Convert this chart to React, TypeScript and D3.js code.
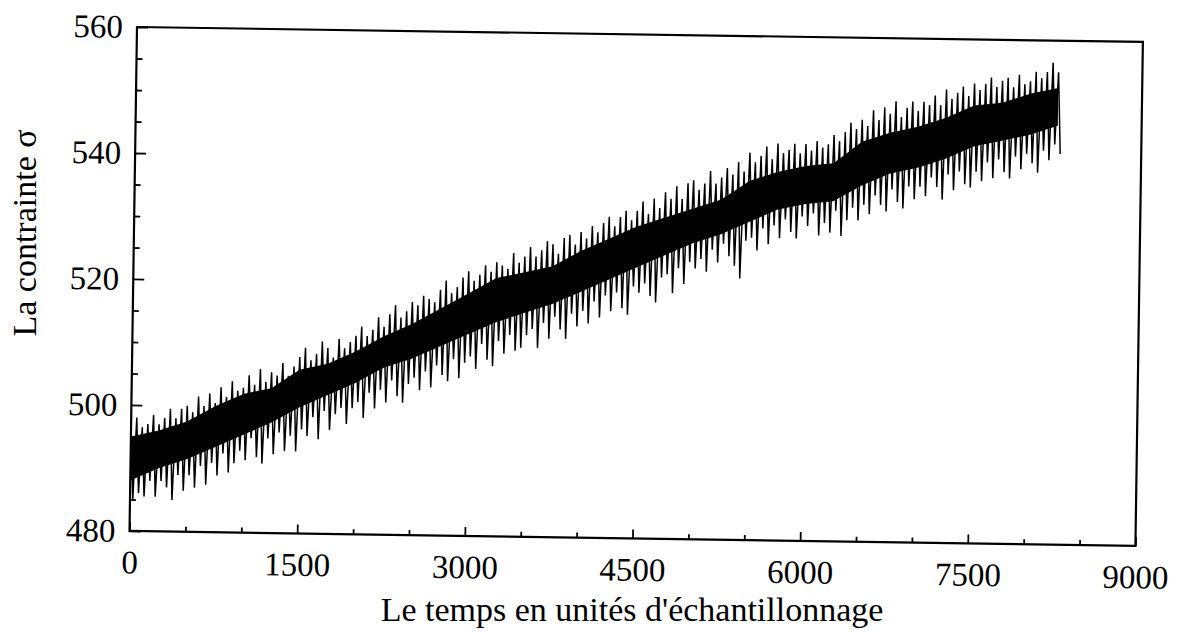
import * as d3 from "d3";
import { useEffect, useRef } from "react";

const WIDTH = 1183;
const HEIGHT = 632;
const FONT = "'Liberation Serif', 'Times New Roman', serif";

// axes
const xDomain = [0, 9000];
const yDomain = [480, 560];
const xMajorTicks = [0, 1500, 3000, 4500, 6000, 7500, 9000];
const xMinorTicks = [500, 1000, 2000, 2500, 3500, 4000, 5000, 5500, 6500, 7000, 8000, 8500];
const yMajorTicks = [480, 500, 520, 540, 560];
const yMinorTicks = [485, 490, 495, 505, 510, 515, 525, 530, 535, 545, 550, 555];

// spikes of the signal: a crest every 50 samples (0, 50, ...) and a trough halfway between
const SPIKE_STEP = 50;
const crests = [
    495.5, 498, 496.5, 497, 498.5, 497, 498, 499.5, 498, 499.5,
    500, 499, 501.5, 500, 502, 500.5, 503, 501.5, 504, 502.5,
    503, 505, 503.5, 506, 504, 505.5, 505, 507, 505, 506.5,
    508, 509.5, 507.5, 508.5, 510.5, 509.5, 508, 511, 509.5, 510.5,
    511.5, 513, 511.5, 512.5, 514.5, 513, 515, 516.5, 514.5, 515.5,
    517, 516.5, 518, 517.5, 517, 519, 520.5, 518.5, 519.5, 521,
    522, 520.5, 521.5, 523, 522, 523.5, 523, 522.5, 525, 523.5,
    524.5, 526, 524.5, 525.5, 527, 526.5, 525, 527.5, 528, 526.5,
    528.5, 527.5, 529.5, 528.5, 530, 531, 529.5, 531, 532, 530.5,
    532, 533.5, 531.5, 534, 532.5, 535, 534, 536, 534, 536.5,
    537, 535.5, 536.5, 538.5, 536.5, 537.5, 539, 538, 540, 538.5,
    541.5, 540, 541, 542.5, 540.5, 543, 541.5, 542, 543, 541.5,
    543, 542, 543.5, 542.5, 543, 544.5, 543.5, 545, 546.5, 545.5,
    547, 546, 548.5, 547, 549, 548, 550, 547.5, 549, 550,
    548.5, 550, 549.5, 551, 549.5, 552, 550.5, 551.5, 552.5, 551,
    553, 552, 553, 554, 552.5, 553.5, 554, 552.5, 554.5, 553,
    553.5, 555, 554, 555, 556.5, 555,
];
const troughs = [
    485, 486, 485.5, 488, 485.5, 488, 487, 485, 489, 486.5,
    489, 487, 490.5, 487.5, 491, 489, 492.5, 489.5, 491, 493,
    491.5, 495, 492, 491, 495, 492.5, 496, 493, 495.5, 493,
    496.5, 495.5, 498.5, 495, 499.5, 496.5, 499, 500, 497.5, 500,
    501, 498.5, 502.5, 500, 503, 501, 504.5, 502, 501, 504,
    505, 503, 506, 503.5, 507, 505.5, 504.5, 508, 505, 507.5,
    508.5, 506.5, 510.5, 508, 507, 511, 509, 512, 509.5, 510,
    512, 513, 510, 514, 511.5, 515, 513, 511.5, 515.5, 513.5,
    516, 514, 517.5, 515, 518.5, 516, 519, 516.5, 515.5, 520,
    519, 520.5, 518.5, 517.5, 521.5, 522, 519, 523, 520.5, 524,
    523, 524.5, 522.5, 526, 524, 527, 525, 523.5, 521.5, 527.5,
    528, 526, 529.5, 527, 530, 528, 531, 529, 528, 531.5,
    530, 532, 528.5, 530.5, 529, 532.5, 528.5, 531, 533, 531,
    533.5, 532, 535, 533.5, 532.5, 536, 534, 533, 536.5, 534.5,
    536.5, 535, 538, 536.5, 534.5, 538.5, 536, 539, 537, 536.5,
    539, 537.5, 540.5, 538, 541, 539, 538, 541.5, 539.5, 542,
    540.5, 539, 542.5, 541, 543.5, 542,
];

// dense core of the band, every 250 samples
const BAND_STEP = 250;
const bandLow = [
    488, 490, 491.5, 493.5, 495.5, 497.5, 500, 502, 504, 506.5,
    508, 510, 512, 514, 515.5, 517, 519, 521, 523, 525,
    527, 528.5, 530.5, 532.5, 533.5, 534, 536.5, 538.5, 539.5, 541,
    543, 544, 545, 546.5,
];
const bandHigh = [
    495, 496, 497.5, 500, 502, 503, 506, 507, 509, 511.5,
    513.5, 516, 518.5, 521, 522, 523, 525.5, 527.5, 529.5, 531,
    532.5, 534, 537, 538.5, 539.5, 540, 543.5, 545, 546, 547.5,
    549.5, 550, 551.5, 552.5,
];

export default function App() {
    const ref = useRef<SVGSVGElement | null>(null);

    useEffect(() => {
        if (!ref.current) return;
        const svg = d3.select(ref.current);
        svg.selectAll("*").remove();

        const left = 137, top = 27, w = 1006, h = 504;
        const x = d3.scaleLinear().domain(xDomain).range([0, w]);
        const y = d3.scaleLinear().domain(yDomain).range([h, 0]);

        // the scanned figure is tilted a little clockwise
        const g = svg.append("g")
            .attr("transform", `translate(${left},${top}) rotate(0.85)`)
            .attr("font-family", FONT)
            .attr("font-size", 33);

        // BAND core
        const band = d3.area<number>()
            .x((_, i) => x(i * BAND_STEP))
            .y0((_, i) => y(bandLow[i]))
            .y1(d => y(d));
        g.append("path").datum(bandHigh).attr("d", band).attr("fill", "#000");

        // SPIKES
        const points = crests.flatMap((c, i) => [
            [i * SPIKE_STEP, c],
            [i * SPIKE_STEP + SPIKE_STEP / 2, troughs[i]],
        ]);
        const line = d3.line<number[]>().x(d => x(d[0])).y(d => y(d[1]));
        g.append("path")
            .datum(points)
            .attr("d", line)
            .attr("fill", "none")
            .attr("stroke", "#000")
            .attr("stroke-width", 1.5)
            .attr("stroke-linejoin", "bevel");

        // AXES (ticks point inward)
        const styleAxis = (a: d3.Selection<SVGGElement, unknown, null, undefined>) => {
            a.select(".domain").remove();
            a.attr("font-family", FONT).attr("font-size", 33);
            a.selectAll("line").attr("stroke", "#000").attr("stroke-width", 1.8);
            a.selectAll("text").attr("fill", "#000");
        };

        g.append("g")
            .attr("transform", `translate(0,${h})`)
            .call(d3.axisBottom(x).tickValues(xMinorTicks).tickSize(-5).tickSizeOuter(0).tickFormat(() => ""))
            .call(styleAxis);
        g.append("g")
            .attr("transform", `translate(0,${h})`)
            .call(d3.axisBottom(x).tickValues(xMajorTicks).tickSize(-9).tickSizeOuter(0).tickPadding(19).tickFormat(d3.format("d")))
            .call(styleAxis);

        g.append("g")
            .call(d3.axisLeft(y).tickValues(yMinorTicks).tickSize(-6).tickSizeOuter(0).tickFormat(() => ""))
            .call(styleAxis);
        g.append("g")
            .call(d3.axisLeft(y).tickValues(yMajorTicks).tickSize(-11).tickSizeOuter(0).tickPadding(14).tickFormat(d3.format("d")))
            .call(styleAxis);

        // FRAME
        g.append("rect")
            .attr("width", w)
            .attr("height", h)
            .attr("fill", "none")
            .attr("stroke", "#000")
            .attr("stroke-width", 2.2);

        // TITLES
        svg.append("text")
            .attr("x", 632)
            .attr("y", 621)
            .attr("text-anchor", "middle")
            .attr("font-family", FONT)
            .attr("font-size", 34)
            .text("Le temps en unités d'échantillonnage");

        svg.append("text")
            .attr("transform", "translate(36,233) rotate(-90)")
            .attr("text-anchor", "middle")
            .attr("font-family", FONT)
            .attr("font-size", 34)
            .text("La contrainte σ");
    }, []);

    return (
        <svg
            ref={ref}
            width={WIDTH}
            height={HEIGHT}
            style={{ position: "absolute", left: 0, top: 0, background: "#fff" }}
        />
    );
}
